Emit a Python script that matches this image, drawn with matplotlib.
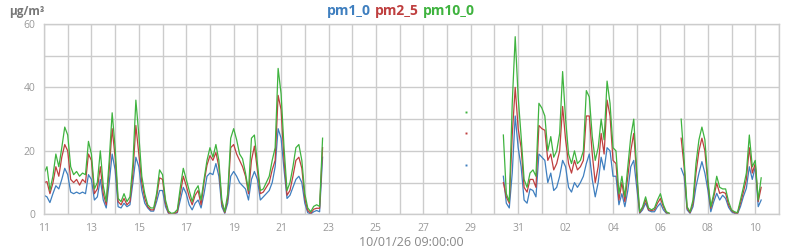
import matplotlib
matplotlib.use("Agg")
import matplotlib.pyplot as plt
import matplotlib.dates as mdates
import numpy as np
import pandas as pd

plt.rcParams['font.family'] = ['Open Sans', 'DejaVu Sans']

# ---- data (3-hourly readings, µg/m³) ----
seg_starts = ["2026-01-11 00:00", "2026-01-30 09:00", "2026-02-06 21:00"]

pm10_a = [13, 15, 7.5, 12, 19, 15, 21, 27.5,
          25, 15, 12.5, 13.5, 12, 13, 12.5, 23,
          19, 8, 10, 20, 9, 4, 17, 32,
          21, 5, 4, 6.5, 4, 5.5, 16, 36,
          25, 12, 6.5, 3, 2, 2, 6.5, 14,
          12.5, 4.5, 1, 0.3, 0.5, 1.5, 8.5, 14.5,
          11, 7.5, 4, 7.5, 9, 4.5, 11, 17,
          21, 18, 22, 17, 4.5, 0.8, 6.5, 24,
          27, 23.5, 19, 17.5, 13, 7.5, 24, 25,
          16, 7.5, 8, 10, 12, 17, 21, 46,
          38, 21, 7.5, 10, 15, 21, 22, 17,
          6.5, 2, 0.8, 2.5, 3, 2.5, 24]
pm25_a = [10, 10.3, 6.5, 9.8, 15, 12, 18, 22,
          20, 11, 10, 11, 9.2, 11, 10, 19,
          17, 6.5, 8, 15, 6.5, 3, 14, 27,
          18, 4, 3, 5, 3, 4, 13, 28,
          19, 10, 5, 2.4, 1.4, 1.4, 5.5, 11.5,
          11, 3.5, 0.5, 0.1, 0.3, 0.8, 6.5, 12,
          9, 5.5, 3, 6, 7.5, 3, 10, 15.5,
          18.5, 17, 19.5, 15, 3.5, 0.5, 5, 21,
          22, 19, 17, 15, 12, 6.5, 17, 21.5,
          14, 6.5, 7, 8.5, 10, 14, 17, 37.5,
          33, 17, 6, 7.5, 12, 17, 18, 14.5,
          5, 1.2, 0.3, 1.6, 1.9, 1.9, 21]
pm1_a = [6, 5.5, 3.7, 6.5, 9, 8, 11, 14.5,
         12.5, 7, 6.5, 7, 6.5, 7, 6.5, 12.5,
         11, 4.5, 5.5, 11, 4.5, 2, 10, 19,
         14, 2.4, 2, 3.5, 2.4, 3, 10, 18,
         15, 7.5, 3.5, 2, 1, 1, 4, 7.5,
         7.5, 2.4, 0.3, 0, 0.1, 0.5, 4.5, 8.5,
         6.5, 3, 1.4, 3.5, 4.5, 2, 6.5, 12,
         13, 12.5, 16, 12, 2.4, 0.3, 3.5, 12,
         13.5, 12, 10, 9, 8, 4.5, 11, 13.5,
         11, 4.5, 5.5, 6.5, 7.5, 10, 15, 27,
         24, 14, 5, 6, 8.5, 11, 12, 10,
         3.5, 0.5, 0.1, 0.8, 1.2, 0.8, 18]

pm10_b = [25, 6.5, 4, 35, 56,
          37, 24.5, 11, 8.5, 13, 14, 12, 35,
          33.5, 31, 20, 24.5, 18, 20, 25.5, 45,
          30, 19, 16, 20, 16, 17, 20, 39,
          37, 24.5, 17, 21, 30, 23.5, 42, 35,
          21, 20, 6.5, 12, 5.5, 15, 24.5, 30,
          14, 0.8, 2.4, 5.5, 2, 1.4, 2, 4.5,
          6.5, 3, 0.8, 0.3]
pm25_b = [10, 5.5, 3.5, 25, 40,
          27, 21, 8.5, 7, 11, 11, 8.5, 28,
          27, 26.5, 17, 19, 14, 16, 20, 34,
          23.5, 16, 13, 17, 14, 15, 17, 31,
          31, 19, 10, 15, 25.5, 19, 36, 31,
          17, 16, 4.5, 10, 4, 12, 20, 25.5,
          12, 0.5, 2, 4.5, 1.4, 1.2, 1.4, 3.5,
          5, 2.4, 0.5, 0.3]
pm1_b = [12, 3.5, 2, 13, 31,
         21, 15, 4.5, 3.5, 8, 7.5, 5.5, 19,
         18, 17, 10, 13, 7.5, 8.5, 12, 17,
         15, 8.5, 7, 10, 8.5, 10, 12, 16,
         19, 11, 5.5, 10, 18, 14, 21, 20,
         12, 12, 3, 6.5, 2.4, 7.5, 15, 17,
         8.5, 0.3, 1.4, 3.5, 1.2, 0.8, 0.8, 2.4,
         3.5, 1.4, 0.3, 0.1]

pm10_c = [30,
          17, 2.4, 0.8, 4.5, 16, 23.5, 27.5, 23.5,
          11, 2.4, 6.5, 12, 8.5, 8, 8, 4,
          1.4, 0.8, 0.5, 4.5, 8.5, 13, 25, 15,
          17, 4.5, 11.5]
pm25_c = [24,
          15, 1.9, 0.5, 3.5, 13, 20, 24, 20,
          9.8, 1.9, 5.5, 9.8, 6.6, 7, 6.6, 3,
          1.2, 0.5, 0.3, 3.5, 7, 11, 21, 13,
          16, 4, 8.5]
pm1_c = [14.5,
         12, 1.4, 0.3, 2.4, 8.7, 13, 16.6, 13,
         7.7, 0.8, 4, 6.6, 4.5, 6, 5, 2.2,
         0.8, 0.3, 0.1, 2.4, 5.6, 8.2, 15, 11,
         15, 2.4, 4.5]

# isolated single reading
iso_time = "2026-01-28 19:00"
iso_pm1, iso_pm25, iso_pm10 = 15.4, 25.5, 32.2

x_ticks = pd.date_range("2026-01-11", "2026-02-10", freq="2D")
y_ticks = [0, 20, 40, 60]
x_label = "10/01/26 09:00:00"
y_unit = "μg/m³"

series_names = ["pm1_0", "pm2_5", "pm10_0"]
colors = ["#3f7fbf", "#bf3f3f", "#3fb33f"]

segments = [
    (pm1_a, pm25_a, pm10_a),
    (pm1_b, pm25_b, pm10_b),
    (pm1_c, pm25_c, pm10_c),
]

# ---- figure ----
fig = plt.figure(figsize=(8, 2.5), dpi=100)
ax = fig.add_axes([0.055, 0.1428, 0.9187, 0.7612])

for start, seg in zip(seg_starts, segments):
    t = pd.date_range(start, periods=len(seg[0]), freq="3h")
    for vals, c in zip(seg, colors):
        ax.plot(t, vals, color=c, lw=0.9)

for v, c in zip([iso_pm1, iso_pm25, iso_pm10], colors):
    ax.plot([pd.Timestamp(iso_time)], [v], marker="s", ms=1.4, mew=0,
            color=c, lw=0)

ax.set_xlim(pd.Timestamp("2026-01-11"), pd.Timestamp("2026-02-11"))
ax.set_ylim(0, 60)
ax.set_xticks(x_ticks)
ax.xaxis.set_major_formatter(mdates.DateFormatter("%d"))
ax.xaxis.set_minor_locator(mdates.DayLocator())
ax.set_yticks(y_ticks)
ax.set_yticks([10, 30, 50], minor=True)
ax.grid(True, which="both", color="#cccccc", lw=1.0)
ax.set_axisbelow(True)
for s in ax.spines.values():
    s.set_color("#cccccc")
    s.set_linewidth(1.0)
ax.tick_params(which="both", length=0, colors="#999999", labelsize=7.5, pad=6)
ax.tick_params(axis="y", pad=6)
ax.set_xlabel(x_label, color="#888888", fontsize=9, labelpad=2)

fig.text(0.012, 0.955, y_unit, color="#777777", fontsize=8.5, fontweight="bold",
         ha="left", va="center")

# multi-coloured title
fig.canvas.draw()
renderer = fig.canvas.get_renderer()
pieces = []
for name, c in zip(series_names, colors):
    pieces.append(fig.text(0, 0.955, name, color=c, fontsize=10,
                           fontweight="bold", va="center", ha="left"))
widths = [p.get_window_extent(renderer).width for p in pieces]
sp_w = 4.0
total = sum(widths) + sp_w * (len(widths) - 1)
x0 = 401 - total / 2
for p, w in zip(pieces, widths):
    p.set_x(x0 / 800)
    x0 += w + sp_w

fig.savefig("out.png", dpi=100)
